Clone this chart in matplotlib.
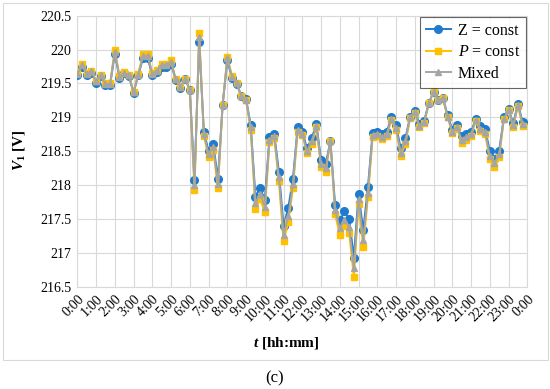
import numpy as np
import matplotlib.pyplot as plt
from matplotlib.patches import Rectangle

plt.rcParams['font.family'] = ['Liberation Serif', 'DejaVu Serif']
plt.rcParams['mathtext.fontset'] = 'custom'
plt.rcParams['mathtext.rm'] = 'Liberation Serif'
plt.rcParams['mathtext.it'] = 'Liberation Serif:italic'
plt.rcParams['mathtext.bf'] = 'Liberation Serif:bold'
plt.rcParams['mathtext.bfit'] = 'Liberation Serif:italic:bold'

# voltage V1 every 15 min, 0:00 .. 23:45
z_const = [219.62, 219.75, 219.62, 219.66, 219.51, 219.61, 219.48, 219.48,
           219.94, 219.58, 219.65, 219.61, 219.36, 219.62, 219.87, 219.88,
           219.62, 219.67, 219.75, 219.75, 219.79, 219.55, 219.44, 219.56,
           219.41, 218.08, 220.11, 218.78, 218.51, 218.61, 218.09, 219.18,
           219.84, 219.58, 219.49, 219.31, 219.27, 218.88, 217.83, 217.96,
           217.78, 218.71, 218.76, 218.20, 217.40, 217.66, 218.09, 218.85,
           218.79, 218.54, 218.69, 218.90, 218.37, 218.31, 218.65, 217.70,
           217.48, 217.61, 217.50, 216.93, 217.87, 217.33, 217.97, 218.77,
           218.78, 218.75, 218.78, 219.00, 218.88, 218.54, 218.69, 219.01,
           219.10, 218.90, 218.95, 219.21, 219.38, 219.25, 219.29, 219.03,
           218.82, 218.88, 218.72, 218.75, 218.78, 218.98, 218.87, 218.83,
           218.50, 218.39, 218.51, 219.00, 219.12, 218.91, 219.20, 218.93]
p_const = [219.66, 219.79, 219.66, 219.69, 219.54, 219.63, 219.50, 219.50,
           220.00, 219.61, 219.67, 219.62, 219.38, 219.64, 219.93, 219.93,
           219.65, 219.70, 219.78, 219.79, 219.84, 219.56, 219.45, 219.57,
           219.41, 217.93, 220.25, 218.73, 218.41, 218.52, 217.95, 219.18,
           219.89, 219.61, 219.50, 219.32, 219.25, 218.82, 217.65, 217.79,
           217.60, 218.64, 218.70, 218.06, 217.17, 217.45, 217.95, 218.79,
           218.74, 218.47, 218.61, 218.85, 218.26, 218.20, 218.65, 217.57,
           217.26, 217.40, 217.29, 216.64, 217.72, 217.08, 217.82, 218.71,
           218.72, 218.68, 218.72, 218.96, 218.81, 218.43, 218.61, 218.99,
           219.07, 218.85, 218.91, 219.21, 219.38, 219.25, 219.28, 219.00,
           218.77, 218.84, 218.62, 218.67, 218.72, 218.95, 218.80, 218.75,
           218.38, 218.27, 218.41, 218.97, 219.11, 218.86, 219.17, 218.87]
mixed = [219.64, 219.77, 219.64, 219.68, 219.53, 219.62, 219.49, 219.49,
         219.97, 219.60, 219.66, 219.62, 219.37, 219.63, 219.90, 219.91,
         219.64, 219.69, 219.77, 219.77, 219.82, 219.56, 219.45, 219.57,
         219.41, 218.00, 220.19, 218.75, 218.46, 218.56, 218.01, 219.18,
         219.87, 219.60, 219.50, 219.32, 219.26, 218.85, 217.73, 217.87,
         217.68, 218.67, 218.73, 218.12, 217.27, 217.54, 218.01, 218.82,
         218.76, 218.50, 218.65, 218.87, 218.31, 218.25, 218.65, 217.63,
         217.36, 217.49, 217.38, 216.77, 217.79, 217.19, 217.89, 218.74,
         218.75, 218.71, 218.75, 218.98, 218.84, 218.48, 218.65, 219.00,
         219.08, 218.87, 218.93, 219.21, 219.38, 219.25, 219.28, 219.01,
         218.79, 218.86, 218.67, 218.71, 218.75, 218.96, 218.83, 218.79,
         218.43, 218.32, 218.46, 218.98, 219.11, 218.88, 219.18, 218.90]
hour_labels = [f"{h}:00" for h in range(24)] + ["0:00"]
y_ticks = [216.5, 217, 217.5, 218, 218.5, 219, 219.5, 220, 220.5]

t = np.arange(len(z_const)) * 0.25  # hours

fig = plt.figure(figsize=(5.5, 3.89), dpi=100)
fig.patches.append(Rectangle((3 / 550, 29 / 389), 545 / 550, 357 / 389,
                             transform=fig.transFigure, fill=False,
                             edgecolor='#d9d9d9', linewidth=0.8))
ax = fig.add_axes([77.3 / 550, 102.3 / 389, 450 / 550, 271 / 389])

ax.plot(t, z_const, '-o', color='#1f7bd0', lw=1.4, ms=5.5, label='Z = const', zorder=3)
ax.plot(t, p_const, '-s', color='#ffc000', lw=1.4, ms=5, label='$P$ = const', zorder=4)
ax.plot(t, mixed, '-^', color='#a5a5a5', lw=1.4, ms=4.5, label='Mixed', zorder=5)

ax.set_xlim(0, 24)
ax.set_ylim(216.5, 220.5)
ax.set_xticks(range(25))
ax.set_xticklabels(hour_labels, rotation=45, ha='right', rotation_mode='anchor', fontsize=10)
ax.set_yticks(y_ticks)
ax.set_yticklabels([f"{v:g}" for v in y_ticks], fontsize=10)
ax.tick_params(length=0, pad=4)
ax.grid(True, color='#d9d9d9', lw=0.8)
ax.set_axisbelow(True)
for s in ax.spines.values():
    s.set_color('#d9d9d9')

leg = ax.legend(loc='upper right', fontsize=11.5, frameon=True, fancybox=False,
                borderaxespad=0.1, handlelength=1.6, handletextpad=0.4,
                labelspacing=0.35, borderpad=0.35)
leg.get_frame().set_edgecolor('#404040')
leg.get_frame().set_linewidth(0.8)

fig.text(286 / 550, 1 - 343 / 389, '$\\mathbfit{t}$ [hh:mm]', ha='center', va='center',
         fontsize=11, fontweight='bold')
fig.text(19 / 550, 1 - 150 / 389, '$\\mathbfit{V}_\\mathbf{1}$ [V]', ha='center', va='center',
         rotation=90, fontsize=11, fontweight='bold')
fig.text(275 / 550, 1 - 378 / 389, '(c)', ha='center', va='center', fontsize=12)

fig.savefig('out.png', dpi=100)
